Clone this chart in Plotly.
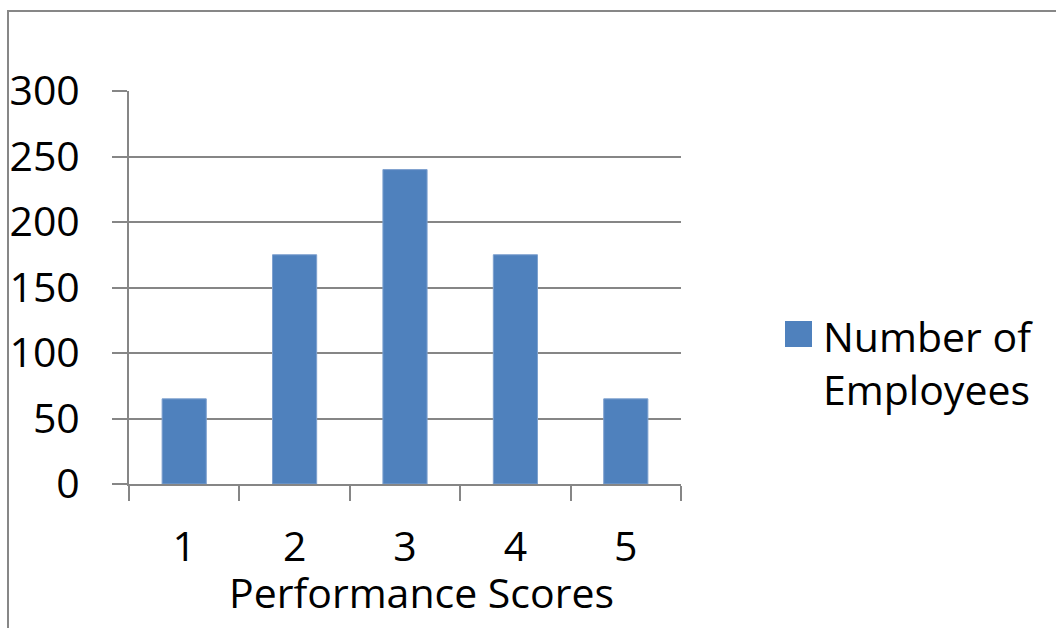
import plotly.graph_objects as go

# Distribution of employees by performance score
scores = ["1", "2", "3", "4", "5"]
employees = [65, 175, 240, 175, 65]
series_name = "Number of Employees"
x_title = "Performance Scores"
y_ticks = [0, 50, 100, 150, 200, 250, 300]

W, H = 1056, 628
L, R, T, B = 129, 375, 91, 144
plot_w = W - L - R
plot_h = H - T - B

BAR = "#4F81BD"
GRID = "#868686"
FONT = "Open Sans"
FS = 41

def px_x(px):
    return (px - L) / plot_w

def px_y(py):
    return (H - B - py) / plot_h

fig = go.Figure()
fig.add_trace(go.Bar(
    x=scores, y=employees, name=series_name,
    marker=dict(color=BAR, line=dict(color="#7EA1CF", width=1)),
    width=0.4, showlegend=False,
))

fig.update_layout(
    width=W, height=H,
    margin=dict(l=L, r=R, t=T, b=B, autoexpand=False),
    paper_bgcolor="white", plot_bgcolor="white",
    font=dict(family=FONT, size=FS, color="black"),
    bargap=0.6,
    xaxis=dict(
        tickson="boundaries", ticks="outside", ticklen=15, tickwidth=2, tickcolor=GRID,
        showline=True, linecolor=GRID, linewidth=2, showgrid=False,
        tickfont=dict(size=FS), ticklabelstandoff=26, automargin=False,
    ),
    yaxis=dict(
        range=[0, 300], tickvals=y_ticks, ticks="outside", ticklen=15, tickwidth=2,
        tickcolor=GRID, showline=True, linecolor=GRID, linewidth=2,
        showgrid=True, gridcolor=GRID, gridwidth=2, zeroline=False,
        tickfont=dict(size=FS), ticklabelstandoff=24, automargin=False,
    ),
)

# x-axis title
fig.add_annotation(xref="paper", yref="paper", x=px_x(421), y=px_y(592),
                   text=x_title, showarrow=False, xanchor="center", yanchor="middle",
                   font=dict(size=FS, family=FONT))

# chart frame (extends beyond the right and bottom edges)
fig.add_shape(type="rect", xref="paper", yref="paper",
              x0=px_x(8), x1=px_x(W + 20), y0=px_y(H + 20), y1=px_y(11),
              line=dict(color="#878787", width=2), fillcolor="rgba(0,0,0,0)", layer="below")

# legend: swatch + label
fig.add_shape(type="rect", xref="paper", yref="paper",
              x0=px_x(785), x1=px_x(812), y0=px_y(347), y1=px_y(321),
              line=dict(width=0), fillcolor=BAR)
fig.add_annotation(xref="paper", yref="paper", x=px_x(821), y=px_y(362),
                   text=series_name.replace(" of ", " of<br>"), showarrow=False,
                   xanchor="left", yanchor="middle", align="left",
                   font=dict(size=FS, family=FONT))

fig.write_html("out.html")
